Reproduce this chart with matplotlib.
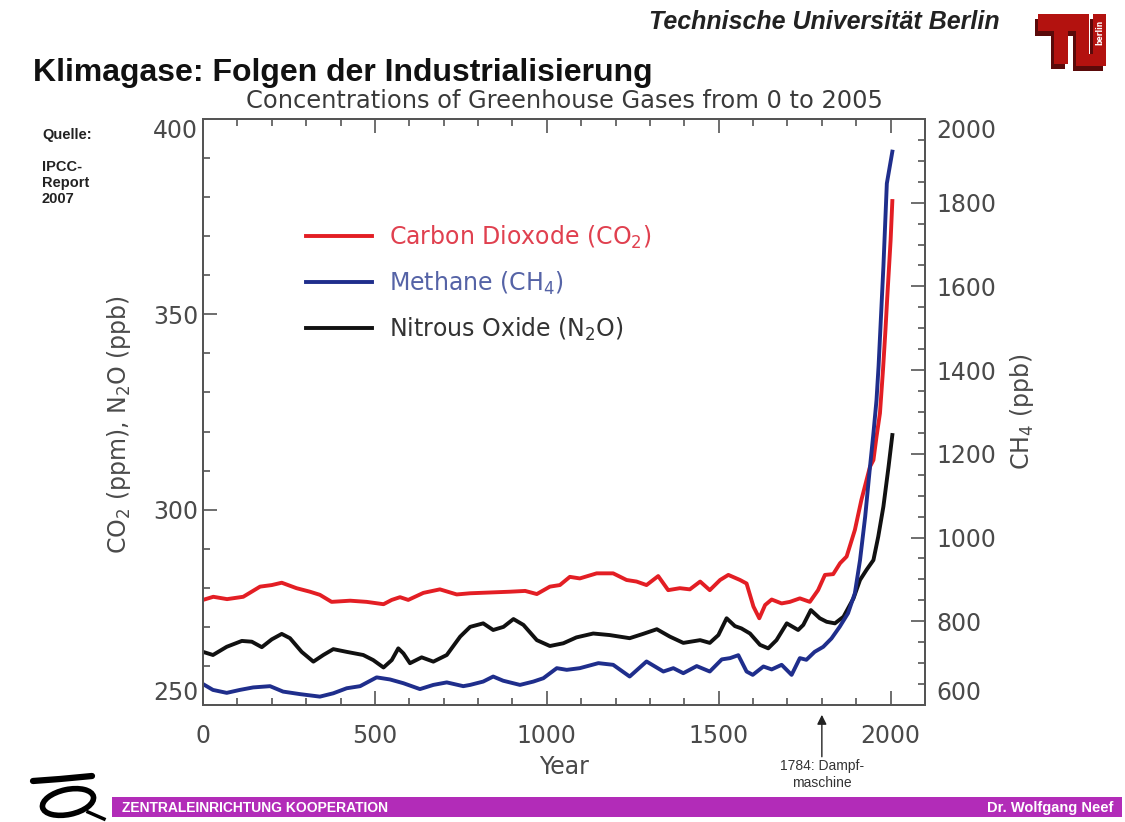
import matplotlib
matplotlib.use('Agg')
import matplotlib.pyplot as plt
from matplotlib.patches import Rectangle, Ellipse, Polygon
from matplotlib.ticker import MultipleLocator

# values (year, concentration)
co2_year = [0, 30, 70, 117, 166, 200, 229, 272, 311, 340, 374, 428, 476, 525, 549, 573, 597,
            641, 689, 738, 777, 835, 893, 937, 971, 1009, 1038, 1067, 1096, 1145, 1193, 1232,
            1261, 1290, 1324, 1353, 1387, 1416, 1446, 1474, 1504, 1528, 1562, 1581, 1601, 1618,
            1635, 1654, 1683, 1707, 1736, 1765, 1789, 1809, 1833, 1853, 1872, 1896, 1915, 1940,
            1950, 1959, 1969, 1978, 1985, 1990, 2000, 2005]
co2_ppm = [276.9, 277.7, 277.1, 277.7, 280.3, 280.7, 281.3, 279.9, 279.0, 278.2, 276.4, 276.7,
           276.4, 275.8, 276.9, 277.6, 276.9, 278.7, 279.6, 278.3, 278.6, 278.8, 279.0, 279.2,
           278.4, 280.3, 280.7, 282.8, 282.4, 283.7, 283.7, 282.0, 281.6, 280.7, 283.0, 279.4,
           279.9, 279.6, 281.6, 279.4, 282.0, 283.3, 282.0, 281.1, 275.2, 272.2, 275.6, 277.0,
           276.0, 276.4, 277.3, 276.4, 279.4, 283.3, 283.5, 286.3, 288.0, 294.8, 302.5, 311.0,
           312.7, 318.7, 324.7, 336.0, 346.0, 354.0, 369.0, 379.0]

n2o_year = [0, 29, 69, 113, 142, 171, 200, 229, 253, 287, 321, 350, 379, 418, 466, 495, 525,
            549, 568, 583, 602, 636, 670, 709, 748, 777, 815, 844, 874, 903, 932, 971, 1009,
            1048, 1086, 1135, 1183, 1241, 1280, 1320, 1358, 1397, 1446, 1474, 1499, 1523, 1547,
            1566, 1591, 1620, 1644, 1668, 1698, 1731, 1746, 1768, 1794, 1814, 1838, 1863, 1892,
            1911, 1930, 1950, 1964, 1979, 1994, 2005]
n2o_ppb = [263.6, 262.8, 264.9, 266.4, 266.2, 264.8, 266.8, 268.2, 267.1, 263.6, 261.1, 262.8,
           264.3, 263.6, 262.8, 261.5, 259.6, 261.5, 264.5, 263.2, 260.7, 262.2, 261.1, 262.8,
           267.5, 270.0, 270.9, 269.2, 270.0, 272.0, 270.5, 266.6, 265.1, 265.8, 267.3, 268.3,
           267.9, 267.1, 268.2, 269.4, 267.5, 265.9, 266.6, 265.9, 267.9, 272.2, 270.2, 269.6,
           268.3, 265.4, 264.5, 266.6, 270.9, 269.2, 270.5, 274.3, 272.2, 271.3, 270.9, 272.6,
           277.3, 282.0, 284.6, 287.1, 293.1, 300.8, 311.0, 319.1]

ch4_year = [0, 29, 69, 107, 146, 195, 233, 282, 340, 379, 418, 457, 505, 544, 583, 631, 670,
            709, 757, 777, 815, 844, 873, 922, 961, 990, 1029, 1058, 1096, 1150, 1193, 1241,
            1290, 1339, 1368, 1397, 1436, 1474, 1509, 1533, 1557, 1581, 1599, 1630, 1654, 1683,
            1712, 1736, 1755, 1779, 1804, 1828, 1852, 1876, 1896, 1911, 1926, 1940, 1950, 1959,
            1965, 1979, 1989, 2005]
ch4_ppb = [650, 636, 629, 636, 642, 645, 632, 626, 620, 628, 640, 645, 666, 661, 652, 638, 648,
           654, 645, 648, 656, 668, 658, 648, 656, 664, 688, 684, 688, 700, 696, 668, 704, 680,
           688, 676, 693, 680, 709, 712, 719, 680, 672, 692, 685, 696, 672, 712, 708, 727, 739,
           759, 787, 819, 867, 946, 1050, 1169, 1249, 1329, 1410, 1647, 1846, 1922]

labels = ["Carbon Dioxode (CO$_2$)", "Methane (CH$_4$)", "Nitrous Oxide (N$_2$O)"]
line_colors = ["#e31e24", "#1f2e8c", "#111111"]
text_colors = ["#e0404f", "#5563a6", "#333333"]

W, H = 1125, 822
fig = plt.figure(figsize=(W / 100, H / 100), dpi=100)

# page decoration in pixel coordinates
bg = fig.add_axes([0, 0, 1, 1])
bg.set_xlim(0, W)
bg.set_ylim(H, 0)
bg.axis('off')

bg.text(1000, 22, "Technische Universität Berlin", ha='right', va='center',
        fontsize=18, fontweight='bold', fontstyle='italic', family='Liberation Sans', color='#222')
bg.text(33, 73, "Klimagase: Folgen der Industrialisierung", ha='left', va='center',
        fontsize=23, fontweight='bold', family='Liberation Sans', color='#111')

# TU logo
shadow = '#5a0a0a'
red = '#b3120f'
for dx, dy, c in [(-3, 5, shadow), (0, 0, red)]:
    bg.add_patch(Polygon([(1038 + dx, 14 + dy), (1078 + dx, 14 + dy), (1078 + dx, 31 + dy),
                          (1068 + dx, 31 + dy), (1068 + dx, 64 + dy), (1054 + dx, 64 + dy),
                          (1054 + dx, 31 + dy), (1038 + dx, 31 + dy)], closed=True, color=c, lw=0))
    bg.add_patch(Polygon([(1076 + dx, 14 + dy), (1089 + dx, 14 + dy), (1089 + dx, 54 + dy),
                          (1093 + dx, 54 + dy), (1093 + dx, 14 + dy), (1106 + dx, 14 + dy),
                          (1106 + dx, 66 + dy), (1076 + dx, 66 + dy)], closed=True, color=c, lw=0))
bg.text(1099.5, 32, "berlin", rotation=90, ha='center', va='center', fontsize=5.5,
        color='white', fontweight='bold')

bg.text(42, 135, "Quelle:", ha='left', va='center', fontsize=10.5, fontweight='bold',
        family='Liberation Sans', color='#222')
bg.text(42, 183, "IPCC-\nReport\n2007", ha='left', va='center', fontsize=10.5,
        fontweight='bold', family='Liberation Sans', color='#222', linespacing=1.2)

# footer bar and logo
bg.add_patch(Rectangle((112, 797), 1010, 20, color='#b22cb8', lw=0))
bg.text(122, 808, "ZENTRALEINRICHTUNG KOOPERATION", ha='left', va='center', fontsize=10,
        fontweight='bold', color='white', family='Liberation Sans')
bg.text(1113, 808, "Dr. Wolfgang Neef", ha='right', va='center', fontsize=10.5,
        fontweight='bold', color='white', family='Liberation Sans')
bg.add_patch(Ellipse((68, 802), 52, 25, angle=-12, fill=False, lw=4, color='black'))
bg.plot([33, 60, 92], [781, 779, 776], color='black', lw=4.5, solid_capstyle='round')
bg.plot([88, 104], [812, 819], color='black', lw=2.5)

# main chart
ax = fig.add_axes([203 / W, 1 - 705 / H, 722 / W, 586 / H])
ax2 = ax.twinx()

l1, = ax.plot(co2_year, co2_ppm, color=line_colors[0], lw=2.8)
l3, = ax.plot(n2o_year, n2o_ppb, color=line_colors[2], lw=2.8)
l2, = ax2.plot(ch4_year, ch4_ppb, color=line_colors[1], lw=2.8)

ax.set_xlim(0, 2100)
ax.set_ylim(250, 400)
ax2.set_ylim(600, 2000)

ax.xaxis.set_major_locator(MultipleLocator(500))
ax.xaxis.set_minor_locator(MultipleLocator(100))
ax.yaxis.set_major_locator(MultipleLocator(50))
ax.yaxis.set_minor_locator(MultipleLocator(10))
ax2.yaxis.set_major_locator(MultipleLocator(200))
ax2.yaxis.set_minor_locator(MultipleLocator(50))

tick_col = '#4a4a4a'
for a in (ax, ax2):
    for s in a.spines.values():
        s.set_color('#555555')
        s.set_linewidth(1.4)
ax.tick_params(which='both', direction='in', top=True, colors='#555555', labelcolor=tick_col,
               labelsize=17, width=1.2)
ax.tick_params(which='major', length=10)
ax.tick_params(which='minor', length=5)
ax.tick_params(axis='x', pad=14)
ax2.tick_params(which='both', direction='in', colors='#555555', labelcolor=tick_col,
                labelsize=17, width=1.2, pad=8)
ax2.tick_params(which='major', length=10)
ax2.tick_params(which='minor', length=5)

ax.set_title("Concentrations of Greenhouse Gases from 0 to 2005", fontsize=17.4,
             color='#3a3a3a', pad=8)
ax.set_xlabel("Year", fontsize=17, color=tick_col)
ax.xaxis.set_label_coords(0.5, -0.086)
ax.set_ylabel("CO$_2$ (ppm), N$_2$O (ppb)", fontsize=17, color=tick_col)
ax.yaxis.set_label_coords(-0.097, 0.478)
ax2.set_ylabel("CH$_4$ (ppb)", fontsize=17, color=tick_col)
ax2.yaxis.set_label_coords(1.115, 0.5)

ax.legend([l1, l2, l3], labels, loc='upper left', bbox_to_anchor=(0.1427, 0.822),
          frameon=False, fontsize=17, labelcolor=text_colors, handlelength=2.8,
          handletextpad=0.7, labelspacing=0.8, borderpad=0, borderaxespad=0)

ax.annotate("", xy=(1800, -0.012), xytext=(1800, -0.093),
            xycoords=('data', 'axes fraction'), textcoords=('data', 'axes fraction'),
            arrowprops=dict(arrowstyle='-|>', color='#222', lw=1.0, mutation_scale=14),
            annotation_clip=False)
ax.text(1800, -0.092, "1784: Dampf-\nmaschine", transform=ax.get_xaxis_transform(),
        ha='center', va='top', fontsize=10, color='#333', family='Liberation Sans',
        linespacing=1.25)

# end labels of the y axes sit inside the frame, as in the original
fig.canvas.draw()
for a, lo, hi in [(ax, 250, 400), (ax2, 600, 2000)]:
    for t in a.yaxis.get_major_ticks():
        if abs(t.get_loc() - hi) < 1e-6:
            t.label1.set_va('top')
            t.label2.set_va('top')
        elif abs(t.get_loc() - lo) < 1e-6:
            t.label1.set_va('bottom')
            t.label2.set_va('bottom')

fig.savefig("out.png", dpi=100)
